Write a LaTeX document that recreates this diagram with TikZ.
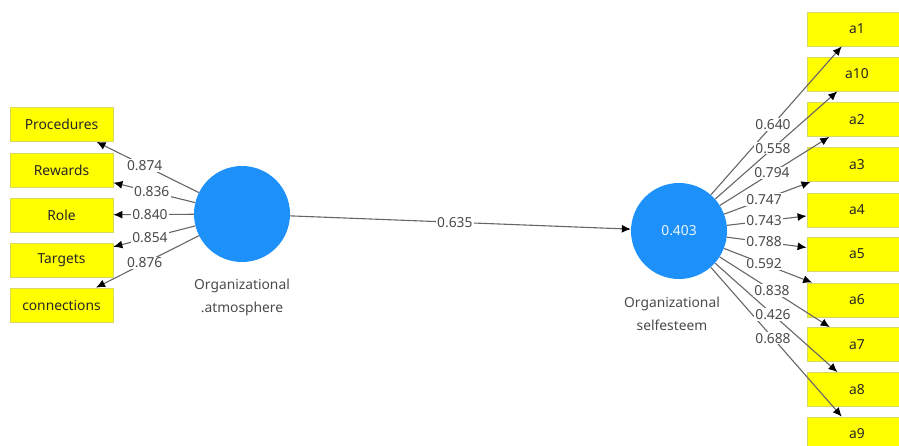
\documentclass[tikz,border=0pt]{standalone}
\usepackage{fontspec}
\setmainfont{Noto Sans}
\usetikzlibrary{arrows.meta}
\definecolor{boxyellow}{HTML}{FFFF00}
\definecolor{boxedge}{HTML}{D8D860}
\definecolor{latblue}{HTML}{1E90FA}
\definecolor{linegray}{HTML}{666666}
\definecolor{labgray}{HTML}{4A4A4A}
\begin{document}
\begin{tikzpicture}[x=1pt,y=-1pt,
  txt/.style={font=\fontsize{13.8}{23}\selectfont},
  ind/.style={txt, draw=boxedge, line width=0.8pt, fill=boxyellow, minimum height=34pt, inner sep=0pt, text=black!85},
  indl/.style={ind, minimum width=103pt},
  indr/.style={ind, minimum width=100pt},
  lat/.style={circle, fill=latblue, minimum size=96pt, inner sep=0pt, txt, text=white!92!latblue},
  con/.style={draw=linegray, line width=1.1pt, -{Latex[length=9pt,width=8pt,color=black]}},
  lab/.style={txt, fill=white, inner sep=1.2pt, text=labgray},
  latcaption/.style={txt, align=center, text=labgray}]
\useasboundingbox (0,0) rectangle (899,445);
\clip (0,0) rectangle (899,445);
% latent variables
\node[lat] (oa) at (242,214) {};
\node[lat] (ose) at (679,231) {0.403};
\node[latcaption] (oacap) at (242,297) {Organizational\\.atmosphere};
\node[latcaption] (osecap) at (672,314) {Organizational\\selfesteem};
% left indicators
\node[indl] (proc) at (61.5,124.5) {Procedures};
\node[indl] (rew) at (61.5,170) {Rewards};
\node[indl] (role) at (61.5,215) {Role};
\node[indl] (targ) at (61.5,260) {Targets};
\node[indl] (conn) at (61.5,305) {connections};
% right indicators
\node[indr] (a1) at (857,29) {a1};
\node[indr] (a10) at (857,74) {a10};
\node[indr] (a2) at (857,119.5) {a2};
\node[indr] (a3) at (857,164.5) {a3};
\node[indr] (a4) at (857,210) {a4};
\node[indr] (a5) at (857,254) {a5};
\node[indr] (a6) at (857,300) {a6};
\node[indr] (a7) at (857,344.5) {a7};
\node[indr] (a8) at (857,389.5) {a8};
\node[indr] (a9) at (857,434) {a9};
% connectors
\foreach \t in {proc,rew,role,targ,conn} \draw[con] (oa) -- (\t);
\foreach \t in {a1,a10,a2,a3,a4,a5,a6,a7,a8,a9} \draw[con] (ose) -- (\t);
\draw[con] (oa) -- (ose);
% labels
\path (oa.center) -- node[lab,pos=0.539] {0.874} (proc.center);
\path (oa.center) -- node[lab,pos=0.50] {0.836} (rew.center);
\path (oa.center) -- node[lab,pos=0.51] {0.840} (role.center);
\path (oa.center) -- node[lab,pos=0.51] {0.854} (targ.center);
\path (oa.center) -- node[lab,pos=0.539] {0.876} (conn.center);
\path (oa.center) -- node[lab,pos=0.487] {0.635} (ose.center);
\path (ose.center) -- node[lab,pos=0.528] {0.640} (a1.center);
\path (ose.center) -- node[lab,pos=0.528] {0.558} (a10.center);
\path (ose.center) -- node[lab,pos=0.522] {0.794} (a2.center);
\path (ose.center) -- node[lab,pos=0.478] {0.747} (a3.center);
\path (ose.center) -- node[lab,pos=0.478] {0.743} (a4.center);
\path (ose.center) -- node[lab,pos=0.478] {0.788} (a5.center);
\path (ose.center) -- node[lab,pos=0.478] {0.592} (a6.center);
\path (ose.center) -- node[lab,pos=0.522] {0.838} (a7.center);
\path (ose.center) -- node[lab,pos=0.528] {0.426} (a8.center);
\path (ose.center) -- node[lab,pos=0.528] {0.688} (a9.center);
\end{tikzpicture}
\end{document}
